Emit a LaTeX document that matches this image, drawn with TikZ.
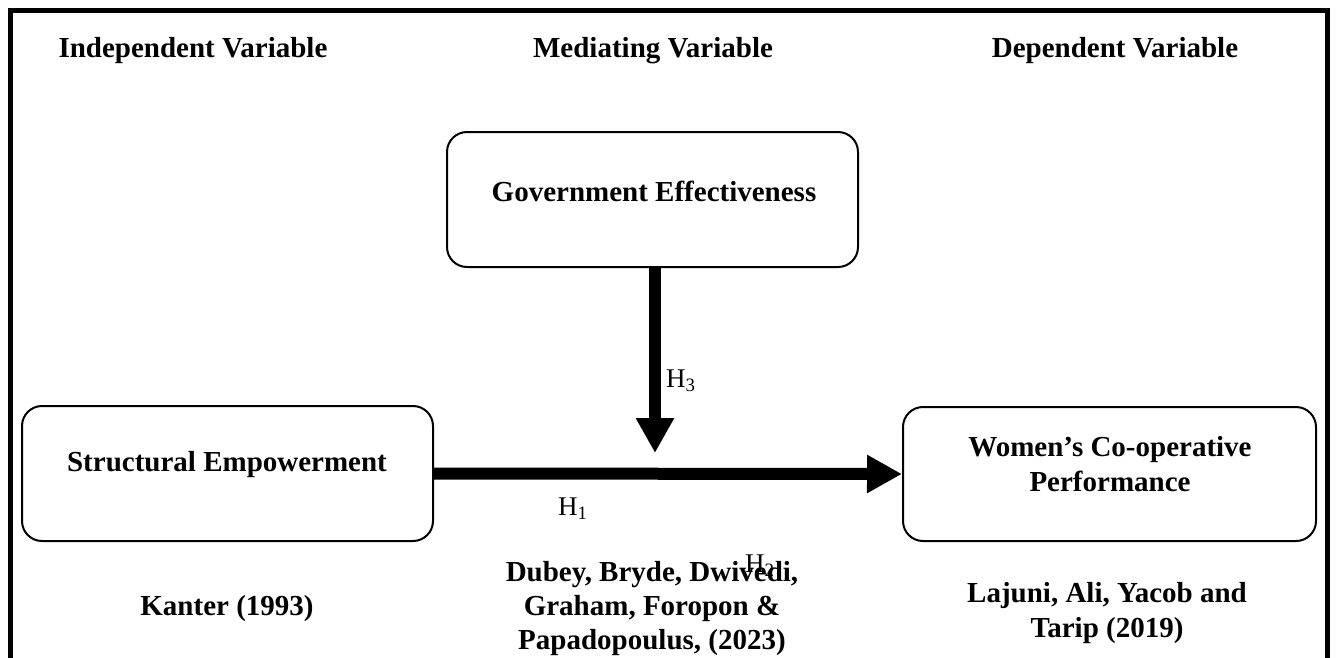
\documentclass[tikz,border=0pt]{standalone}
\usepackage{fontspec}
\setmainfont{Liberation Serif}
\usetikzlibrary{arrows.meta}
\tikzset{
  varbox/.style={draw, line width=2pt, rounded corners=20pt, minimum width=411pt, minimum height=135pt, inner sep=0pt},
  boldtxt/.style={font=\fontsize{29}{35}\selectfont\bfseries, align=center, inner sep=0pt},
  htxt/.style={font=\fontsize{27}{32}\selectfont, inner sep=0pt, anchor=west},
  bigarrow/.style={line width=12pt, -{Triangle[width=36pt,length=35pt]}}
}
\begin{document}
\begin{tikzpicture}[x=1pt,y=-1pt]
\useasboundingbox (0,0) rectangle (1336,657);
\clip (0,0) rectangle (1336,657);
\fill[white] (0,0) rectangle (1336,657);
% outer frame
\draw[line width=4.5pt] (10.5,700) -- (10.5,10.5) -- (1327.5,10.5) -- (1327.5,700);
% headers
\node[boldtxt] (head1) at (193,51) {Independent Variable};
\node[boldtxt] (head2) at (653,51) {Mediating Variable};
\node[boldtxt] (head3) at (1115,51) {Dependent Variable};
% boxes
\node[varbox] (gov) at (652.5,199.5) {};
\node[varbox] (struct) at (227.5,473.5) {};
\node[varbox, minimum width=413pt, minimum height=134pt] (women) at (1109.5,474) {};
\node[boldtxt] (govtext) at (654,191) {Government Effectiveness};
\node[boldtxt] (structtext) at (227,465) {Structural Empowerment};
\node[boldtxt] (womentext) at (1110,464) {Women’s Co-operative\\Performance};
% arrows
\coordinate (h3tip) at (655,453);
\draw[bigarrow] (gov.south -| h3tip) -- (h3tip);
\draw[bigarrow] (struct.east) -- (women.west);
% hypothesis labels
\node[htxt] (h3) at (666,381) {H\textsubscript{3}};
\node[htxt] (h1) at (558,509) {H\textsubscript{1}};
% citations
\node[boldtxt] (kanter) at (227,609) {Kanter (1993)};
\node[boldtxt, align=center, font=\fontsize{29}{34}\selectfont\bfseries] (dubey) at (652,609) {Dubey, Bryde, Dwivedi,\\Graham, Foropon \&\\Papadopoulus, (2023)};
\node[boldtxt] (lajuni) at (1107,613) {Lajuni, Ali, Yacob and\\Tarip (2019)};
\node[htxt] (h2) at (745,566) {H\textsubscript{2}};
\end{tikzpicture}
\end{document}
